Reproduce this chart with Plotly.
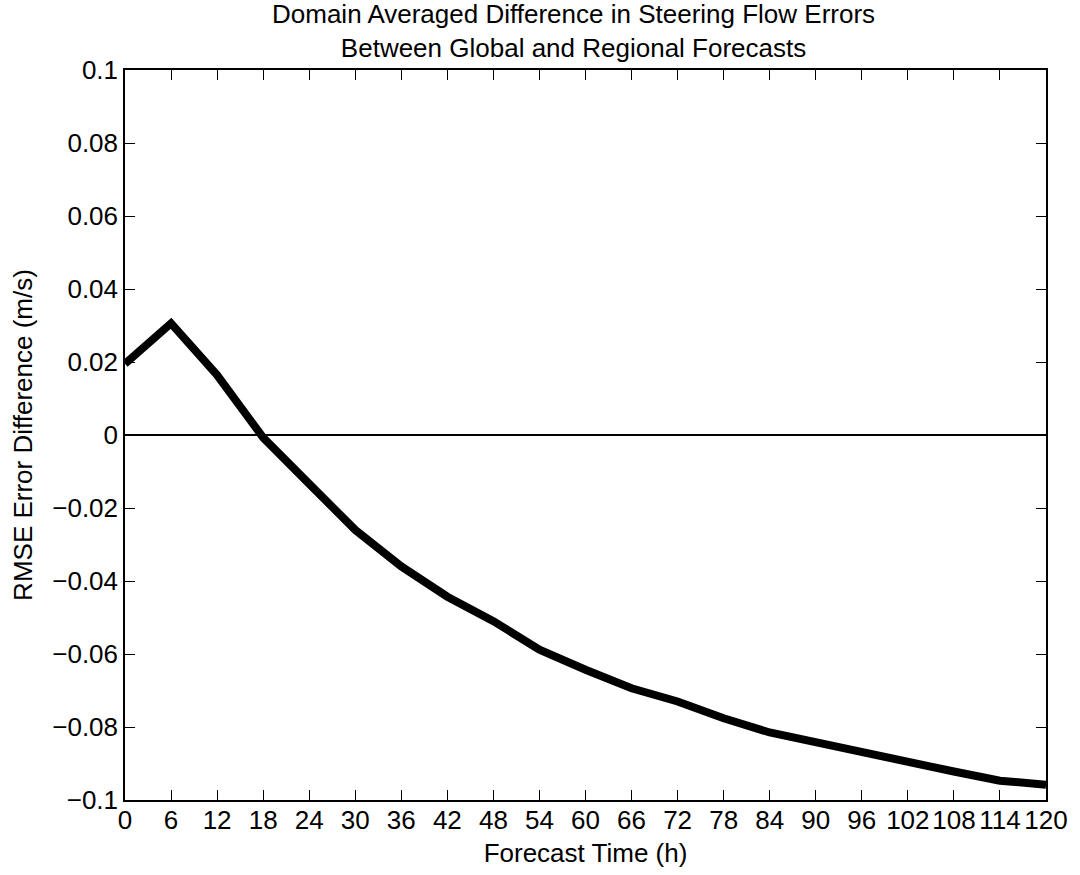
import plotly.graph_objects as go

# Forecast lead times (hours) and domain-averaged RMSE difference (m/s)
forecast_hours = [0, 6, 12, 18, 24, 30, 36, 42, 48, 54, 60, 66, 72, 78, 84, 90, 96, 102, 108, 114, 120]
rmse_diff = [0.0195, 0.0306, 0.0164, -0.0007, -0.0134, -0.0260, -0.0360, -0.0443, -0.0510, -0.0588,
             -0.0643, -0.0694, -0.0730, -0.0776, -0.0815, -0.0842, -0.0870, -0.0900, -0.0922, -0.0947, -0.0958]

x_ticks = list(range(0, 121, 6))
y_ticks = [0.1, 0.08, 0.06, 0.04, 0.02, 0, -0.02, -0.04, -0.06, -0.08, -0.1]

title_lines = ["Domain Averaged Difference in Steering Flow Errors",
               "Between Global and Regional Forecasts"]

font_family = "Liberation Sans, Arial, Helvetica, sans-serif"
font_size = 26

fig = go.Figure()

# zero reference line
fig.add_trace(go.Scatter(
    x=[0, 120], y=[0, 0], mode="lines",
    line=dict(color="black", width=2), hoverinfo="skip", showlegend=False,
))

fig.add_trace(go.Scatter(
    x=forecast_hours, y=rmse_diff, mode="lines",
    line=dict(color="black", width=8), showlegend=False,
))

axis_common = dict(
    showgrid=False, zeroline=False, showline=True, linecolor="black", linewidth=1.5,
    mirror="ticks", ticks="inside", ticklen=10, tickwidth=1, tickcolor="black",
    tickfont=dict(family=font_family, size=font_size, color="black"),
)

# two-line title placed just above the axes
title_annotation = dict(
    text="<br>".join(title_lines), xref="paper", yref="paper", x=0.487, y=1,
    yanchor="bottom", xanchor="center", align="center", yshift=5, showarrow=False,
    font=dict(family=font_family, size=font_size, color="black"),
)

fig.update_layout(
    width=1080, height=875,
    paper_bgcolor="white", plot_bgcolor="white",
    margin=dict(l=125, r=31, t=70, b=74),
    annotations=[title_annotation],
    xaxis=dict(
        range=[0, 120], tickmode="array", tickvals=x_ticks,
        ticktext=[str(v) for v in x_ticks], tickangle=0, ticklabelstandoff=-4,
        title=dict(text="Forecast Time (h)", standoff=10,
                   font=dict(family=font_family, size=font_size, color="black")),
        **axis_common,
    ),
    yaxis=dict(
        range=[-0.1, 0.1], tickmode="array", tickvals=y_ticks,
        ticktext=[("\u2212" + f"{abs(v):g}") if v < 0 else f"{v:g}" for v in y_ticks],
        title=dict(text="RMSE Error Difference (m/s)", standoff=12,
                   font=dict(family=font_family, size=font_size, color="black")),
        **axis_common,
    ),
)

fig.write_html("out.html")
